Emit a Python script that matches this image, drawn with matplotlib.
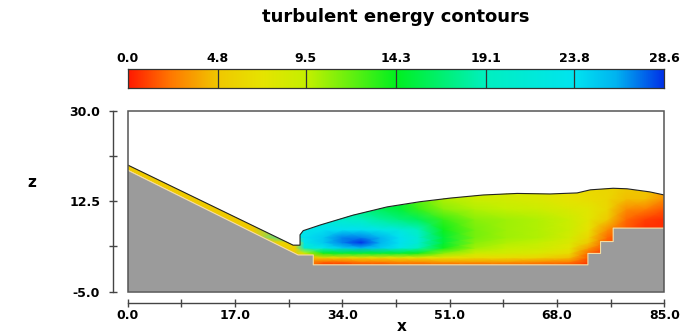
import matplotlib
matplotlib.use('Agg')
import matplotlib.pyplot as plt
import numpy as np
from matplotlib.colors import LinearSegmentedColormap
from matplotlib.patches import Polygon, Rectangle

plt.rcParams['font.family'] = 'DejaVu Sans'
plt.rcParams['font.weight'] = 'bold'

# colour scale
cbar_ticks = [0.0, 4.8, 9.5, 14.3, 19.1, 23.8, 28.6]
cmap_pos = [0.0, 0.08, 0.167, 0.25, 0.333, 0.5, 0.667, 0.833, 0.91, 1.0]
cmap_cols = ['#ff1a00', '#ff7a00', '#f0c800', '#e6e400', '#c4f000', '#00f020',
             '#00f0c0', '#00e4f0', '#00b4f0', '#0030e8']

# free surface (x, z)
surf_x = [0, 26.2, 27.3, 27.3, 27.8, 30.5, 35.7, 41.1, 46.3, 51.1, 56.3, 61.7,
          66.9, 71.2, 73.3, 76.9, 79.1, 82.7, 85]
surf_z = [19.5, 4.0, 4.0, 6.0, 6.8, 7.9, 9.8, 11.4, 12.4, 13.1, 13.7, 14.0,
          13.9, 14.1, 14.7, 15.0, 14.9, 14.3, 13.7]

# terrain top (x, z)
terr_x = [0, 27.0, 29.4, 29.4, 72.9, 72.9, 74.9, 74.9, 76.9, 76.9, 85]
terr_z = [18.5, 2.1, 2.1, 0.2, 0.2, 2.4, 2.4, 4.7, 4.7, 7.3, 7.3]

# turbulent energy, one list per grid column (x)
grid_x = [0, 20, 26.5, 28, 31, 34, 37, 40, 43, 46, 50, 55, 60, 65, 70, 73, 76, 79, 82, 85]
grid_z = [0, 0.8, 1.6, 2.5, 3.5, 4.5, 5.5, 7, 9, 11, 13, 16, 20]
tke_cols = [
    [5, 5, 5, 5, 5, 5, 5, 5, 5, 5, 5, 5, 5],
    [5, 5, 5, 5, 5, 5, 5, 5, 5, 5, 5, 5, 5],
    [5, 5, 5, 5, 5.5, 6, 21, 21, 20, 20, 20, 20, 20],
    [3, 3, 4, 9, 21, 23, 24, 23, 21, 20, 20, 20, 20],
    [0.5, 2, 6, 14, 23, 25, 25, 24, 21, 19, 19, 19, 19],
    [0.5, 2, 6, 15, 25, 27, 27, 24, 20, 18, 18, 18, 18],
    [1, 2.5, 6.5, 15, 26, 28.5, 27, 24, 19, 17, 17, 17, 17],
    [1, 2.5, 6.5, 15, 25, 26, 26, 23, 18, 16, 16, 16, 16],
    [1.5, 3, 7, 15, 23, 24, 24, 22, 17, 15, 15, 15, 15],
    [1.5, 3, 7, 14, 19, 21, 21, 19, 16, 13, 12, 12, 12],
    [1.5, 3.5, 7, 11, 14, 15, 15, 14, 13, 11, 10, 10, 10],
    [1.5, 3.5, 6.5, 9, 10.5, 11, 11.5, 11.5, 11, 10, 9, 9, 9],
    [1.5, 3.5, 6.5, 8.5, 9.5, 10, 10.5, 10.5, 10.5, 9.5, 8.5, 8, 8],
    [1.5, 3, 6, 8, 9, 9.5, 10, 10, 10, 9, 8, 7.5, 7.5],
    [1, 2.5, 4.5, 6.5, 7.5, 8, 8.5, 9, 9, 8, 7, 6.5, 6.5],
    [0.5, 1, 1.5, 2, 3.5, 5, 6, 7, 7.5, 7.5, 6.5, 6, 6],
    [0, 0, 0.5, 0.5, 1, 1.5, 2, 3, 5, 6, 6, 6, 6],
    [0, 0, 0, 0, 0.5, 0.5, 1, 1.5, 2, 3, 4.5, 5.5, 5.5],
    [0, 0, 0, 0, 0, 0, 0.5, 0.5, 1, 2.5, 4.5, 5, 5],
    [0, 0, 0, 0, 0, 0, 0, 0.5, 0.5, 1.5, 3, 4.5, 4.5],
]

cmap = LinearSegmentedColormap.from_list('tke', list(zip(cmap_pos, cmap_cols)))
vmax = cbar_ticks[-1]

fig = plt.figure(figsize=(7, 3.32), dpi=100)
fig.text(0.566, 0.949, 'turbulent energy contours', ha='center', va='center',
         fontsize=13, fontweight='bold')

# colour bar
cax = fig.add_axes([0.1824, 0.734, 0.7661, 0.0581])
grad = np.linspace(0, vmax, 256).reshape(1, -1)
cax.imshow(grad, aspect='auto', cmap=cmap, extent=[0, vmax, 0, 1], vmin=0, vmax=vmax)
for t in cbar_ticks[1:-1]:
    cax.axvline(t, color='#333333', lw=0.9)
cax.set_xlim(0, vmax)
cax.set_yticks([])
cax.set_xticks(cbar_ticks)
cax.set_xticklabels(['%.1f' % t for t in cbar_ticks], fontsize=9, fontweight='bold')
cax.xaxis.tick_top()
cax.tick_params(axis='x', length=0, pad=3)
for s in cax.spines.values():
    s.set_color('#333333')
    s.set_linewidth(0.9)

# main plot
ax = fig.add_axes([0.1824, 0.1214, 0.7666, 0.5452])
ax.set_xlim(0, 85)
ax.set_ylim(-5, 30)

fluid = Polygon(list(zip(surf_x, surf_z)) + list(zip(terr_x[::-1], terr_z[::-1])),
                closed=True, facecolor='none', edgecolor='none')
ax.add_patch(fluid)
X, Z = np.meshgrid(grid_x, grid_z)
mesh = ax.pcolormesh(X, Z, np.array(tke_cols).T, shading='gouraud', cmap=cmap,
                     vmin=0, vmax=vmax)
mesh.set_clip_path(fluid)

ground = Polygon(list(zip(terr_x, terr_z)) + [(85, -5), (0, -5)], closed=True,
                 facecolor='#9b9b9b', edgecolor='none', zorder=3)
ax.add_patch(ground)
ax.plot(terr_x, terr_z, color='#f6dca0', lw=0.8, zorder=4)
ax.plot(surf_x, surf_z, color='#222222', lw=0.8, zorder=4)

# frame around plot area
ax.add_patch(Rectangle((0, 0), 1, 1, transform=ax.transAxes, fill=False,
                       edgecolor='#555555', lw=1.1, clip_on=False, zorder=5))

# detached axis lines
for side in ['top', 'right']:
    ax.spines[side].set_visible(False)
ax.spines['left'].set_position(('outward', 10.8))
ax.spines['bottom'].set_position(('outward', 8.4))
for side in ['left', 'bottom']:
    ax.spines[side].set_color('#444444')
    ax.spines[side].set_linewidth(1.0)

ax.set_xticks([0, 17, 34, 51, 68, 85])
ax.set_xticks([8.5, 25.5, 42.5, 59.5, 76.5], minor=True)
ax.set_xticklabels(['0.0', '17.0', '34.0', '51.0', '68.0', '85.0'], fontsize=9,
                   fontweight='bold')
ax.set_yticks([-5, 12.5, 30])
ax.set_yticks([3.75, 21.25], minor=True)
ax.set_yticklabels(['-5.0', '12.5', '30.0'], fontsize=9, fontweight='bold')
ax.tick_params(which='both', direction='inout', length=6, width=1.0, color='#444444')
ax.tick_params(axis='x', which='major', pad=1)
ax.tick_params(axis='y', which='major', pad=6)

ax.text(-0.179, 0.602, 'z', transform=ax.transAxes, ha='center', va='center',
        fontsize=11, fontweight='bold')
fig.text(0.574, 0.018, 'x', ha='center', va='center', fontsize=11, fontweight='bold')

fig.savefig('out.png', dpi=100)
